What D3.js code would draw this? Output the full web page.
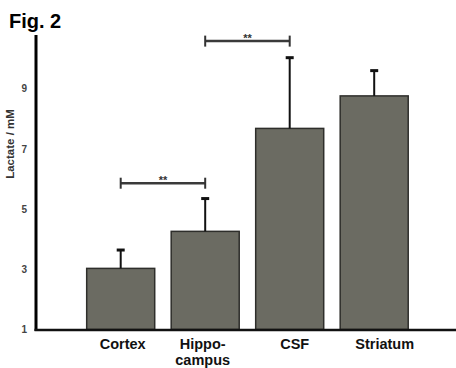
<!DOCTYPE html>
<html>
<head>
<meta charset="utf-8">
<script src="https://cdn.jsdelivr.net/npm/d3@7"></script>
<style>
  html, body { margin: 0; padding: 0; background: #fff; }
  svg { display: block; font-family: "Liberation Sans", Arial, sans-serif; font-weight: bold; }
</style>
</head>
<body>
<div id="chart"></div>
<script>
// ---- data ----
const categories = ["Cortex", "Hippocampus", "CSF", "Striatum"];
const categoryLabels = [["Cortex"], ["Hippo-", "campus"], ["CSF"], ["Striatum"]];
const means = [3.03, 4.26, 7.68, 8.76];
const errorTops = [3.64, 5.35, 10.03, 9.60];
const yTicks = [1, 3, 5, 7, 9];
const sigFrom = ["Cortex", "Hippocampus"];
const sigTo = ["Hippocampus", "CSF"];
const sigLevel = [5.86, 10.58];
const sigText = ["**", "**"];

// ---- layout ----
const W = 456, H = 368;
const svg = d3.select("#chart").append("svg").attr("width", W).attr("height", H);

const y = d3.scaleLinear().domain([1, 10.75]).range([329.5, 36]);
const x = d3.scaleBand().domain(categories).range([78.45, 416.45])
  .paddingInner(0.195).paddingOuter(0.0975);
const cx = c => x(c) + x.bandwidth() / 2;

// title
svg.append("text").attr("x", 9).attr("y", 28).attr("font-size", 20).attr("fill", "#000").text("Fig. 2");

// bars
svg.selectAll("rect.bar").data(categories).enter().append("rect")
  .attr("class", "bar")
  .attr("x", d => x(d))
  .attr("width", x.bandwidth())
  .attr("y", (d, i) => y(means[i]))
  .attr("height", (d, i) => y(1) - y(means[i]))
  .attr("fill", "#6b6b62")
  .attr("stroke", "#2e2e2b")
  .attr("stroke-width", 1.5);

// error bars
const eb = svg.selectAll("g.err").data(categories).enter().append("g").attr("class", "err");
eb.append("line")
  .attr("x1", d => cx(d)).attr("x2", d => cx(d))
  .attr("y1", (d, i) => y(means[i])).attr("y2", (d, i) => y(errorTops[i]))
  .attr("stroke", "#111").attr("stroke-width", 2);
eb.append("line")
  .attr("x1", d => cx(d) - 4).attr("x2", d => cx(d) + 4)
  .attr("y1", (d, i) => y(errorTops[i])).attr("y2", (d, i) => y(errorTops[i]))
  .attr("stroke", "#111").attr("stroke-width", 3);

// axes
const yAxis = d3.axisLeft(y).tickValues(yTicks).tickSize(0).tickPadding(9).tickFormat(d3.format("d"));
const gy = svg.append("g").attr("transform", "translate(36,0)").call(yAxis);
gy.select(".domain").remove();
gy.selectAll("text").attr("font-size", 10).attr("font-family", "Liberation Sans, Arial, sans-serif")
  .attr("font-weight", "bold").attr("fill", "#444");
svg.append("line").attr("x1", 36).attr("x2", 36).attr("y1", 35).attr("y2", 331)
  .attr("stroke", "#000").attr("stroke-width", 3);
svg.append("line").attr("x1", 34.5).attr("x2", W).attr("y1", 330).attr("y2", 330)
  .attr("stroke", "#111").attr("stroke-width", 2.5);

// y label
svg.append("text")
  .attr("transform", "translate(13.5,144) rotate(-90)")
  .attr("text-anchor", "middle").attr("font-size", 11.5).attr("fill", "#333")
  .text("Lactate / mM");

// category labels
const labelDx = [2, -2.5, 5, 10.5];
const lab = svg.selectAll("text.cat").data(categories).enter().append("text")
  .attr("class", "cat")
  .attr("text-anchor", "middle").attr("font-size", 14.5).attr("fill", "#111");
lab.each(function (d, i) {
  const t = d3.select(this);
  categoryLabels[i].forEach((line, j) => {
    t.append("tspan").attr("x", cx(d) + labelDx[i]).attr("y", 348.8 + j * 16.3).text(line);
  });
});

// significance brackets
sigLevel.forEach((lv, i) => {
  const x1 = cx(sigFrom[i]), x2 = cx(sigTo[i]), yy = y(lv);
  const g = svg.append("g");
  g.append("line").attr("x1", x1).attr("x2", x2).attr("y1", yy).attr("y2", yy)
    .attr("stroke", "#3a3a3a").attr("stroke-width", 2.5);
  [x1, x2].forEach(xx => g.append("line").attr("x1", xx).attr("x2", xx)
    .attr("y1", yy - 5.5).attr("y2", yy + 5.5).attr("stroke", "#333").attr("stroke-width", 2));
  g.append("text").attr("x", (x1 + x2) / 2).attr("y", yy + 1).attr("text-anchor", "middle")
    .attr("font-size", 11).attr("fill", "#333").text(sigText[i]);
});
</script>
</body>
</html>
